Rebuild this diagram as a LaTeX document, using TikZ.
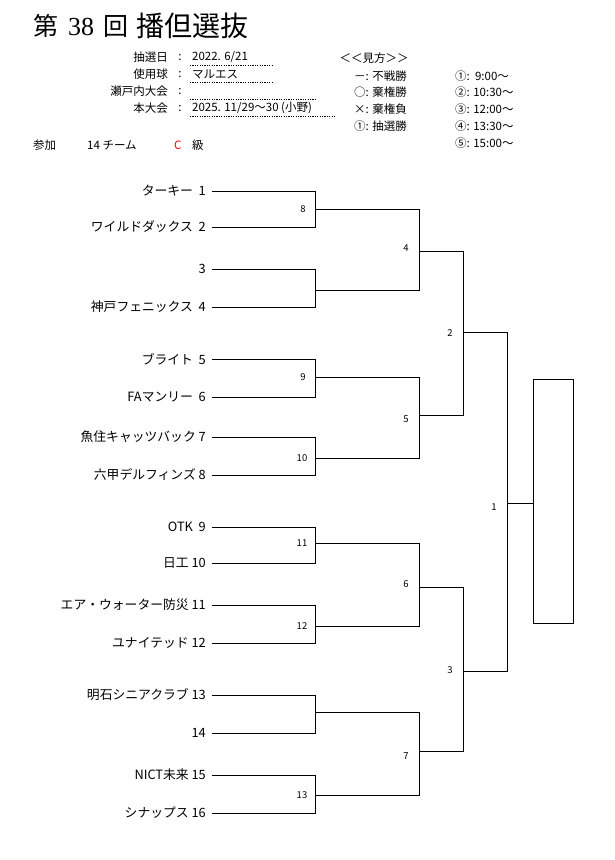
\documentclass[tikz,border=0pt]{standalone}
\usepackage{fontspec}
\setmainfont{Noto Sans CJK JP}
\newfontfamily\serifnum{Liberation Serif}
\begin{document}
\begin{tikzpicture}[x=1pt,y=-1pt,
  br/.style={line width=1pt,line cap=rect},
  team/.style={anchor=east,inner sep=0pt,font=\fontsize{12.8}{13}\selectfont},
  mnum/.style={inner sep=0pt,font=\fontsize{9.5}{10}\selectfont},
  hdr/.style={inner sep=0pt,font=\fontsize{11.5}{12}\selectfont},
  dotline/.style={line width=0.7pt,dash pattern=on 1.2pt off 1.2pt},
  ttl/.style={inner sep=0pt,anchor=west,font=\fontsize{25}{26}\selectfont}]
\useasboundingbox (0,0) rectangle (614,860);
\fill[white] (0,0) rectangle (614,860);

% Title
\node[ttl] (ti1) at (33,26) {第};
\node[ttl,font=\fontsize{26}{27}\selectfont\serifnum] (ti2) at (68,27) {38};
\node[ttl] (ti3) at (103,26) {回};
\node[ttl,font=\fontsize{28}{29}\selectfont] (ti4) at (136,26) {播但選抜};

% Header info
\node[hdr,anchor=east] (h1) at (168,57) {抽選日};
\node[hdr,anchor=east] (h2) at (168,74) {使用球};
\node[hdr,anchor=east] (h3) at (168,91) {瀬戸内大会};
\node[hdr,anchor=east] (h4) at (168,108) {本大会};
\node[hdr] (c1) at (180,58) {:};
\node[hdr] (c2) at (180,75) {:};
\node[hdr] (c3) at (180,92) {:};
\node[hdr] (c4) at (180,109) {:};
\node[hdr,anchor=west] (v1) at (192,57) {2022. 6/21};
\node[hdr,anchor=west] (v2) at (192,74) {マルエス};
\node[hdr,anchor=west] (v4) at (192,108) {2025. 11/29～30 (小野)};
\coordinate (d1a) at (190,65); \coordinate (d1b) at (272,65);
\coordinate (d2a) at (190,82); \coordinate (d2b) at (272,82);
\coordinate (d3a) at (190,99); \coordinate (d3b) at (317,99);
\coordinate (d4a) at (190,116); \coordinate (d4b) at (336,116);
\draw[dotline] (d1a) -- (d1b);
\draw[dotline] (d2a) -- (d2b);
\draw[dotline] (d3a) -- (d3b);
\draw[dotline] (d4a) -- (d4b);

% Legend
\node[hdr] (lg) at (374,58) {＜＜見方＞＞};
\node[hdr,anchor=west] (l1) at (354,76) {－: 不戦勝};
\node[hdr,anchor=west] (l2) at (354,92) {○: 棄権勝};
\node[hdr,anchor=west] (l3) at (354,109) {×: 棄権負};
\node[hdr,anchor=west] (l4) at (354,126) {①: 抽選勝};
\node[hdr,anchor=west] (r1) at (455,76) {①:\ \ 9:00～};
\node[hdr,anchor=west] (r2) at (455,92) {②: 10:30～};
\node[hdr,anchor=west] (r3) at (455,109) {③: 12:00～};
\node[hdr,anchor=west] (r4) at (455,126) {④: 13:30～};
\node[hdr,anchor=west] (r5) at (455,143) {⑤: 15:00～};

% Participation line
\node[hdr,anchor=west] (p1) at (33,145) {参加};
\node[hdr,anchor=west] (p2) at (87,145) {14 チーム};
\node[hdr,anchor=west,text=red] (p3) at (174,145) {C};
\node[hdr,anchor=west] (p4) at (192,145) {級};

% Teams
\foreach \i/\y/\t in {1/191/ターキー\ \ 1, 2/227/ワイルドダックス\ \ 2, 3/269/3, 4/307/神戸フェニックス\ \ 4,
  5/359/ブライト\ \ 5, 6/397/FAマンリー\ \ 6, 7/437/魚住キャッツバック\ 7, 8/475/六甲デルフィンズ\ 8,
  9/527/OTK\ \ 9, 10/563/日工\ 10, 11/605/エア・ウォーター防災\ 11, 12/643/ユナイテッド\ 12,
  13/695/明石シニアクラブ\ 13, 14/733/14, 15/775/NICT未来\ 15, 16/813/シナップス\ 16}{
  \node[team] (t\i) at (206,\y) {\t};
  \coordinate (s\i) at (212,\y);
  \coordinate (e\i) at (315,\y);
}

% Round 1 outputs
\foreach \m/\a/\b/\y in {a/1/2/209, b/3/4/290, c/5/6/377, d/7/8/458, e/9/10/543, f/11/12/626, g/13/14/712, h/15/16/795}{
  \coordinate (o\m) at (315,\y);
  \coordinate (q\m) at (419,\y);
  \draw[br] (s\a) -- (e\a) -- (e\b) -- (s\b);
  \draw[br] (o\m) -- (q\m);
}

% Round 2
\coordinate (r2a) at (419,251); \coordinate (r2ae) at (463,251);
\coordinate (r2b) at (419,415); \coordinate (r2be) at (463,415);
\coordinate (r2c) at (419,587); \coordinate (r2ce) at (463,587);
\coordinate (r2d) at (419,751); \coordinate (r2de) at (463,751);
\draw[br] (qa) -- (qb); \draw[br] (r2a) -- (r2ae);
\draw[br] (qc) -- (qd); \draw[br] (r2b) -- (r2be);
\draw[br] (qe) -- (qf); \draw[br] (r2c) -- (r2ce);
\draw[br] (qg) -- (qh); \draw[br] (r2d) -- (r2de);

% Semifinals
\coordinate (sfa) at (463,332); \coordinate (sfae) at (507,332);
\coordinate (sfb) at (463,671); \coordinate (sfbe) at (507,671);
\draw[br] (r2ae) -- (r2be); \draw[br] (sfa) -- (sfae);
\draw[br] (r2ce) -- (r2de); \draw[br] (sfb) -- (sfbe);

% Final
\coordinate (fin) at (507,503);
\draw[br] (sfae) -- (sfbe);
\node[draw,line width=1pt,minimum width=40pt,minimum height=244pt,inner sep=0pt,anchor=north west] (champ) at (533,379) {};
\draw[br] (fin) -- (fin -| champ.west);

% Match numbers
\node[mnum] (m8) at (303,209) {8};
\node[mnum] (m9) at (303,377) {9};
\node[mnum] (m10) at (302,458) {10};
\node[mnum] (m11) at (302,543) {11};
\node[mnum] (m12) at (302,626) {12};
\node[mnum] (m13) at (302,795) {13};
\node[mnum] (m4) at (406,248) {4};
\node[mnum] (m5) at (406,419) {5};
\node[mnum] (m6) at (406,584) {6};
\node[mnum] (m7) at (406,756) {7};
\node[mnum] (m2) at (450,333) {2};
\node[mnum] (m3) at (450,670) {3};
\node[mnum] (m1) at (494,507) {1};
\end{tikzpicture}
\end{document}
